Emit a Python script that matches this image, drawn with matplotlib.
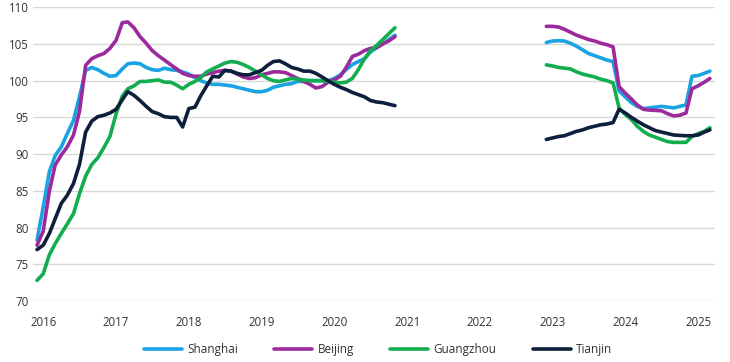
import matplotlib
matplotlib.use("Agg")
import matplotlib.pyplot as plt
import pandas as pd

# ---- data ----
dates_a = pd.date_range("2015-12-01", periods=60, freq="MS")
dates_b = pd.date_range("2022-12-01", periods=28, freq="MS")

shanghai_a = [78.3, 82.8, 87.6, 89.8, 91.0, 92.8, 94.6, 97.8, 101.4, 101.8,
              101.5, 101.0, 100.6, 100.7, 101.6, 102.3, 102.4, 102.3, 101.8, 101.5,
              101.4, 101.7, 101.5, 101.4, 101.2, 100.9, 100.4, 100.0, 99.7, 99.5,
              99.5, 99.4, 99.3, 99.1, 98.9, 98.7, 98.5, 98.5, 98.7, 99.1,
              99.3, 99.5, 99.6, 99.9, 99.9, 100.0, 100.0, 100.0, 100.0, 100.3,
              100.8, 101.5, 102.2, 102.6, 103.0, 103.9, 104.5, 105.0, 105.6, 106.2]
beijing_a = [77.6, 79.5, 85.0, 88.5, 89.9, 91.0, 92.6, 95.8, 102.1, 103.0,
             103.4, 103.7, 104.4, 105.5, 107.9, 108.0, 107.2, 106.0, 105.1, 104.1,
             103.4, 102.8, 102.2, 101.6, 101.0, 100.7, 100.6, 100.6, 100.9, 101.1,
             101.3, 101.4, 101.3, 100.9, 100.5, 100.3, 100.4, 100.8, 101.0, 101.2,
             101.2, 101.1, 100.7, 100.3, 99.9, 99.5, 99.0, 99.2, 99.8, 100.1,
             100.6, 101.8, 103.3, 103.6, 104.1, 104.4, 104.5, 105.0, 105.4, 106.0]
guangzhou_a = [72.8, 73.7, 76.3, 77.8, 79.2, 80.5, 81.9, 84.6, 87.0, 88.6,
               89.5, 90.9, 92.4, 95.5, 97.9, 98.9, 99.3, 99.9, 99.9, 100.0,
               100.1, 99.8, 99.8, 99.4, 98.9, 99.5, 99.9, 100.4, 101.2, 101.6,
               102.0, 102.4, 102.6, 102.5, 102.2, 101.8, 101.3, 100.8, 100.3, 100.0,
               99.9, 100.1, 100.3, 100.2, 100.1, 100.0, 100.0, 100.0, 99.9, 99.8,
               99.7, 99.8, 100.3, 101.5, 103.0, 104.1, 104.8, 105.6, 106.4, 107.2]
tianjin_a = [77.0, 77.6, 79.2, 81.2, 83.3, 84.4, 86.0, 88.6, 93.0, 94.5,
             95.1, 95.3, 95.6, 96.1, 97.4, 98.5, 98.0, 97.3, 96.5, 95.8,
             95.5, 95.1, 95.0, 95.0, 93.7, 96.2, 96.4, 97.9, 99.3, 100.6,
             100.5, 101.4, 101.3, 101.0, 100.8, 100.8, 101.1, 101.4, 102.1, 102.6,
             102.7, 102.3, 101.8, 101.6, 101.3, 101.3, 101.0, 100.5, 100.0, 99.5,
             99.1, 98.8, 98.4, 98.1, 97.8, 97.3, 97.1, 97.0, 96.8, 96.6]

shanghai_b = [105.2, 105.4, 105.45, 105.4, 105.1, 104.7, 104.2, 103.7, 103.4, 103.1,
              102.8, 102.6, 98.6, 97.8, 97.0, 96.5, 96.2, 96.3, 96.4, 96.5,
              96.4, 96.3, 96.5, 96.7, 100.6, 100.7, 101.0, 101.3]
beijing_b = [107.4, 107.4, 107.3, 107.0, 106.6, 106.2, 105.9, 105.6, 105.4, 105.1,
             104.9, 104.6, 99.2, 98.3, 97.5, 96.7, 96.1, 96.0, 95.95, 95.9,
             95.5, 95.2, 95.3, 95.6, 98.9, 99.3, 99.8, 100.3]
guangzhou_b = [102.15, 102.0, 101.8, 101.7, 101.6, 101.2, 100.9, 100.7, 100.5, 100.2,
               100.0, 99.7, 96.3, 95.4, 94.7, 93.8, 93.1, 92.6, 92.3, 92.0,
               91.7, 91.6, 91.6, 91.6, 92.4, 92.8, 93.1, 93.6]
tianjin_b = [92.0, 92.2, 92.4, 92.5, 92.8, 93.1, 93.3, 93.6, 93.8, 94.0,
             94.1, 94.3, 96.1, 95.6, 95.0, 94.5, 94.0, 93.6, 93.2, 93.0,
             92.8, 92.6, 92.55, 92.5, 92.5, 92.6, 93.0, 93.3]

series_names = ["Shanghai", "Beijing", "Guangzhou", "Tianjin"]
colors = ["#1aa3e3", "#9c2a9d", "#12ad4f", "#0d1f3c"]
year_ticks = list(range(2016, 2026))
y_ticks = list(range(70, 111, 5))

# ---- plot ----
plt.rcParams['font.family'] = ['Open Sans', 'DejaVu Sans']
fig = plt.figure(figsize=(7.3, 3.62), dpi=100)
ax = fig.add_axes([0.045, 0.1685, 0.934, 0.8115])

seg_a = [shanghai_a, beijing_a, guangzhou_a, tianjin_a]
seg_b = [shanghai_b, beijing_b, guangzhou_b, tianjin_b]
for name, col, va, vb in zip(series_names, colors, seg_a, seg_b):
    ax.plot(dates_a, va, color=col, lw=2.6, label=name, solid_capstyle='round', solid_joinstyle='round')
    ax.plot(dates_b, vb, color=col, lw=2.6, solid_capstyle='round', solid_joinstyle='round')

ax.set_ylim(70, 110)
ax.set_yticks(y_ticks)
ax.set_xlim(pd.Timestamp("2015-11-10"), pd.Timestamp("2025-03-25"))
ax.set_xticks([pd.Timestamp(f"{y}-01-01") for y in year_ticks])
ax.set_xticklabels([str(y) for y in year_ticks])
ax.grid(axis='y', color='#d9d9d9', lw=1)
ax.set_axisbelow(True)
for s in ax.spines.values():
    s.set_visible(False)
ax.tick_params(axis='both', length=0, labelsize=8.3, colors='#333333')
ax.tick_params(axis='x', pad=11)
ax.tick_params(axis='y', pad=3)

leg = fig.legend(loc='center', bbox_to_anchor=(0.518, 0.034), ncol=4, frameon=False,
                 fontsize=8.5, handlelength=3.2, handletextpad=0.45, columnspacing=3.1)
for t in leg.get_texts():
    t.set_color('#333333')

fig.savefig("out.png", dpi=100)
